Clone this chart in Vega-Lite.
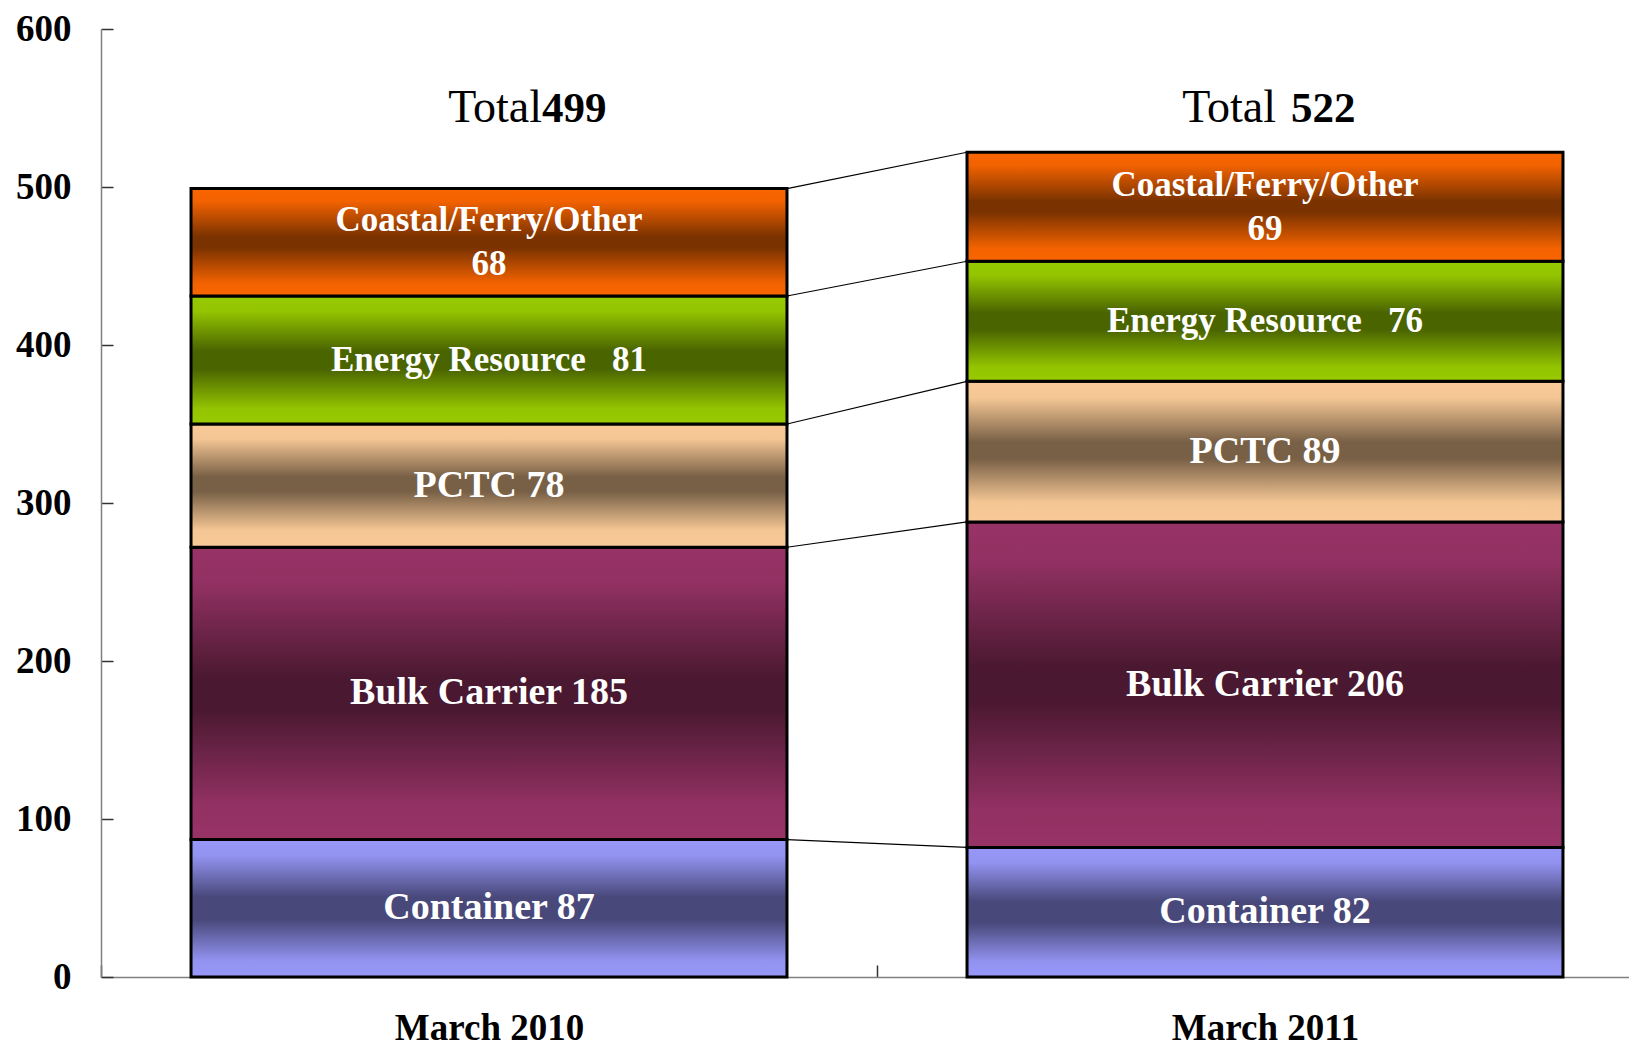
{
  "$schema": "https://vega.github.io/schema/vega-lite/v6.json",
  "width": 1528,
  "height": 948,
  "autosize": {"type": "none"},
  "padding": {"left": 101, "top": 29, "right": 0, "bottom": 71},
  "background": "white",
  "config": {
    "view": {"stroke": null},
    "font": "Liberation Serif",
    "axisY": {"title": null, "grid": false, "labelFont": "Liberation Serif", "labelFontSize": 37, "labelFontWeight": "bold", "labelColor": "black", "labelPadding": 42, "tickSize": -12, "tickColor": "#333333", "tickWidth": 1.5, "domainColor": "#808080", "domainWidth": 1.5},
    "axisX": {"title": null, "grid": false, "labelFont": "Liberation Serif", "labelFontSize": 37, "labelFontWeight": "bold", "labelColor": "black", "labelAngle": 0, "labelBaseline": "alphabetic", "labelPadding": 74, "labelLimit": 0, "tickBand": "extent", "tickSize": -12, "tickColor": "#333333", "tickWidth": 1.5, "domainColor": "#808080", "domainWidth": 1.5}
  },
  "datasets": {
    "fleet": [
      {"year": "March 2010", "category": "Container", "order": 1, "value": 87, "label": "Container 87"},
      {"year": "March 2010", "category": "Bulk Carrier", "order": 2, "value": 185, "label": "Bulk Carrier 185"},
      {"year": "March 2010", "category": "PCTC", "order": 3, "value": 78, "label": "PCTC 78"},
      {"year": "March 2010", "category": "Energy Resource", "order": 4, "value": 81, "label": "Energy Resource\u00a0\u00a0 81"},
      {"year": "March 2010", "category": "Coastal/Ferry/Other", "order": 5, "value": 68, "label": "Coastal/Ferry/Other\n68"},
      {"year": "March 2011", "category": "Container", "order": 1, "value": 82, "label": "Container 82"},
      {"year": "March 2011", "category": "Bulk Carrier", "order": 2, "value": 206, "label": "Bulk Carrier 206"},
      {"year": "March 2011", "category": "PCTC", "order": 3, "value": 89, "label": "PCTC 89"},
      {"year": "March 2011", "category": "Energy Resource", "order": 4, "value": 76, "label": "Energy Resource\u00a0\u00a0 76"},
      {"year": "March 2011", "category": "Coastal/Ferry/Other", "order": 5, "value": 69, "label": "Coastal/Ferry/Other\n69"}
    ],
    "totals": [
      {"year": "March 2010", "total": 499},
      {"year": "March 2011", "total": 522}
    ]
  },
  "layer": [
    {
      "data": {"name": "fleet"},
      "transform": [
        {"stack": "value", "groupby": ["year"], "sort": [{"field": "order", "order": "ascending"}], "as": ["y0", "y1"]},
        {"calculate": "(datum.y0 + datum.y1) / 2", "as": "mid"}
      ],
      "layer": [
        {
          "transform": [{"filter": "datum.category === 'Container'"}],
          "mark": {"type": "bar", "width": {"band": 0.768}, "stroke": "black", "strokeWidth": 3,
            "color": {"gradient": "linear", "x1": 0, "y1": 0, "x2": 0, "y2": 1, "stops": [
              {"offset": 0, "color": "#9898FA"}, {"offset": 0.12, "color": "#9292F0"}, {"offset": 0.42, "color": "#48487A"}, {"offset": 0.58, "color": "#48487A"}, {"offset": 0.88, "color": "#9292F0"}, {"offset": 1, "color": "#9898FA"}]}},
          "encoding": {
            "x": {"field": "year", "type": "nominal", "title": null, "sort": null, "scale": {"domain": ["March 2010", "March 2011"], "range": [0, 1552], "paddingInner": 0, "paddingOuter": 0}},
            "y": {"field": "y0", "type": "quantitative", "title": null, "scale": {"domain": [0, 600], "nice": false}, "axis": {"values": [0, 100, 200, 300, 400, 500, 600]}},
            "y2": {"field": "y1"}
          }
        },
        {
          "transform": [{"filter": "datum.category === 'Bulk Carrier'"}],
          "mark": {"type": "bar", "width": {"band": 0.768}, "stroke": "black", "strokeWidth": 3,
            "color": {"gradient": "linear", "x1": 0, "y1": 0, "x2": 0, "y2": 1, "stops": [
              {"offset": 0, "color": "#983366"}, {"offset": 0.12, "color": "#923163"}, {"offset": 0.45, "color": "#4A1830"}, {"offset": 0.55, "color": "#4A1830"}, {"offset": 0.88, "color": "#923163"}, {"offset": 1, "color": "#983366"}]}},
          "encoding": {
            "x": {"field": "year", "type": "nominal", "title": null},
            "y": {"field": "y0", "type": "quantitative", "title": null},
            "y2": {"field": "y1"}
          }
        },
        {
          "transform": [{"filter": "datum.category === 'PCTC'"}],
          "mark": {"type": "bar", "width": {"band": 0.768}, "stroke": "black", "strokeWidth": 3,
            "color": {"gradient": "linear", "x1": 0, "y1": 0, "x2": 0, "y2": 1, "stops": [
              {"offset": 0, "color": "#F9CA98"}, {"offset": 0.12, "color": "#F4C694"}, {"offset": 0.43, "color": "#786046"}, {"offset": 0.55, "color": "#786046"}, {"offset": 0.86, "color": "#F4C694"}, {"offset": 1, "color": "#F9CA98"}]}},
          "encoding": {
            "x": {"field": "year", "type": "nominal", "title": null},
            "y": {"field": "y0", "type": "quantitative", "title": null},
            "y2": {"field": "y1"}
          }
        },
        {
          "transform": [{"filter": "datum.category === 'Energy Resource'"}],
          "mark": {"type": "bar", "width": {"band": 0.768}, "stroke": "black", "strokeWidth": 3,
            "color": {"gradient": "linear", "x1": 0, "y1": 0, "x2": 0, "y2": 1, "stops": [
              {"offset": 0, "color": "#98CA00"}, {"offset": 0.12, "color": "#93C400"}, {"offset": 0.43, "color": "#4A6400"}, {"offset": 0.57, "color": "#4A6400"}, {"offset": 0.88, "color": "#93C400"}, {"offset": 1, "color": "#98CA00"}]}},
          "encoding": {
            "x": {"field": "year", "type": "nominal", "title": null},
            "y": {"field": "y0", "type": "quantitative", "title": null},
            "y2": {"field": "y1"}
          }
        },
        {
          "transform": [{"filter": "datum.category === 'Coastal/Ferry/Other'"}],
          "mark": {"type": "bar", "width": {"band": 0.768}, "stroke": "black", "strokeWidth": 3,
            "color": {"gradient": "linear", "x1": 0, "y1": 0, "x2": 0, "y2": 1, "stops": [
              {"offset": 0, "color": "#FA6600"}, {"offset": 0.12, "color": "#F26200"}, {"offset": 0.45, "color": "#7A3200"}, {"offset": 0.55, "color": "#7A3200"}, {"offset": 0.88, "color": "#F26200"}, {"offset": 1, "color": "#FA6600"}]}},
          "encoding": {
            "x": {"field": "year", "type": "nominal", "title": null},
            "y": {"field": "y0", "type": "quantitative", "title": null},
            "y2": {"field": "y1"}
          }
        },
        {
          "transform": [{"filter": "datum.category !== 'Coastal/Ferry/Other' && datum.category !== 'Energy Resource'"}],
          "mark": {"type": "text", "color": "white", "font": "Liberation Serif", "fontWeight": "bold", "fontSize": 38, "baseline": "middle", "align": "center"},
          "encoding": {
            "x": {"field": "year", "type": "nominal", "title": null},
            "y": {"field": "mid", "type": "quantitative", "title": null},
            "text": {"field": "label"}
          }
        },
        {
          "transform": [{"filter": "datum.category === 'Energy Resource'"}],
          "mark": {"type": "text", "color": "white", "font": "Liberation Serif", "fontWeight": "bold", "fontSize": 35, "baseline": "middle", "align": "center"},
          "encoding": {
            "x": {"field": "year", "type": "nominal", "title": null},
            "y": {"field": "mid", "type": "quantitative", "title": null},
            "text": {"field": "label"}
          }
        },
        {
          "transform": [{"filter": "datum.category === 'Coastal/Ferry/Other'"}],
          "mark": {"type": "text", "color": "white", "font": "Liberation Serif", "fontWeight": "bold", "fontSize": 35, "baseline": "middle", "align": "center", "lineBreak": "\n", "lineHeight": 44, "dy": -22},
          "encoding": {
            "x": {"field": "year", "type": "nominal", "title": null},
            "y": {"field": "mid", "type": "quantitative", "title": null},
            "text": {"field": "label"}
          }
        },
        {
          "transform": [{"pivot": "year", "value": "y1", "groupby": ["category"]}],
          "mark": {"type": "rule", "color": "black", "strokeWidth": 1.2, "xOffset": 298, "x2Offset": -298},
          "encoding": {
            "x": {"datum": "March 2010"},
            "x2": {"datum": "March 2011"},
            "y": {"field": "March 2010", "type": "quantitative", "title": null},
            "y2": {"field": "March 2011"}
          }
        }
      ]
    },
    {
      "data": {"name": "totals"},
      "transform": [{"filter": "datum.year === 'March 2010'"}],
      "mark": {"type": "text", "text": "Total", "font": "Liberation Serif", "fontSize": 46, "align": "right", "baseline": "alphabetic", "dx": 53, "color": "black"},
      "encoding": {"x": {"field": "year", "type": "nominal", "title": null}, "y": {"datum": 541, "type": "quantitative"}}
    },
    {
      "data": {"name": "totals"},
      "transform": [{"filter": "datum.year === 'March 2010'"}],
      "mark": {"type": "text", "font": "Liberation Serif", "fontWeight": "bold", "fontSize": 43, "align": "left", "baseline": "alphabetic", "dx": 53, "color": "black"},
      "encoding": {"x": {"field": "year", "type": "nominal", "title": null}, "y": {"datum": 541, "type": "quantitative"}, "text": {"field": "total"}}
    },
    {
      "data": {"name": "totals"},
      "transform": [{"filter": "datum.year === 'March 2011'"}],
      "mark": {"type": "text", "text": "Total", "font": "Liberation Serif", "fontSize": 46, "align": "right", "baseline": "alphabetic", "dx": 11, "color": "black"},
      "encoding": {"x": {"field": "year", "type": "nominal", "title": null}, "y": {"datum": 541, "type": "quantitative"}}
    },
    {
      "data": {"name": "totals"},
      "transform": [{"filter": "datum.year === 'March 2011'"}],
      "mark": {"type": "text", "font": "Liberation Serif", "fontWeight": "bold", "fontSize": 43, "align": "left", "baseline": "alphabetic", "dx": 26, "color": "black"},
      "encoding": {"x": {"field": "year", "type": "nominal", "title": null}, "y": {"datum": 541, "type": "quantitative"}, "text": {"field": "total"}}
    }
  ]
}
